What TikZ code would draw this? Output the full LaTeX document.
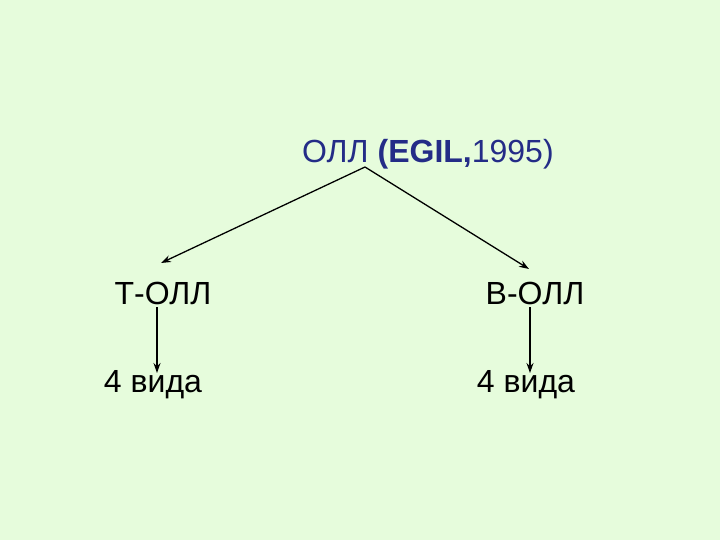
\documentclass[tikz,border=0pt]{standalone}
\usepackage{fontspec}
\setmainfont{Liberation Sans}
\usetikzlibrary{arrows.meta}
\definecolor{bg}{RGB}{230,252,220}
\definecolor{navy}{RGB}{36,44,135}
\begin{document}
\begin{tikzpicture}[x=1pt,y=-1pt,
  lbl/.style={inner sep=0pt,font=\fontsize{32}{38}\selectfont},
  conn/.style={line width=1.3pt,-{Stealth[length=10pt,width=7pt]}}]
\fill[bg] (0,0) rectangle (720,540);
\useasboundingbox (0,0) rectangle (720,540);
\node[lbl,text=navy,anchor=base west] (title) at (302,163) {ОЛЛ \textbf{(EGIL,}1995)};
\node[lbl,anchor=base] (tl) at (163,304) {Т-ОЛЛ};
\node[lbl,anchor=base] (bl) at (535,304) {В-ОЛЛ};
\node[lbl,anchor=base] (t4) at (153,392) {4 вида};
\node[lbl,anchor=base] (b4) at (526,392) {4 вида};
\coordinate (apex) at (365,167);
\coordinate (ltip) at (161,263);
\coordinate (rtip) at (529,269);
\draw[conn] (apex) -- (ltip);
\draw[conn] (apex) -- (rtip);
\draw[conn] (157,307) coordinate (ls) -- (157,373) coordinate (le);
\draw[conn] (530,307) coordinate (rs) -- (530,373) coordinate (re);
\end{tikzpicture}
\end{document}
